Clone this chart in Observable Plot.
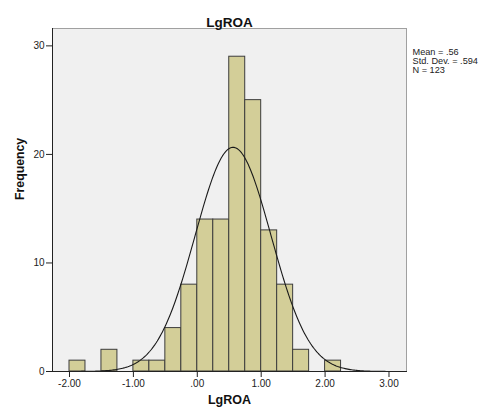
<!DOCTYPE html>
<html><head><meta charset="utf-8">
<script src="https://cdn.jsdelivr.net/npm/d3@7"></script>
<script src="https://cdn.jsdelivr.net/npm/@observablehq/plot@0.6"></script>
<style>body{margin:0;background:#fff;font-family:"Liberation Sans",Arial,sans-serif}</style>
</head><body><div id="chart"></div><script>
const binStarts = [-2.00,-1.50,-1.00,-0.75,-0.50,-0.25,0.00,0.25,0.50,0.75,1.00,1.25,1.50,2.00];
const counts = [1,2,1,1,4,8,14,14,29,25,13,8,2,1];
const binWidth = 0.25;
const xTicks = [-2,-1,0,1,2,3];
const xTickLabels = ["-2.00","-1.00",".00","1.00","2.00","3.00"];
const yTicks = [0,10,20,30];
const mean = 0.56, stdDev = 0.594, n = 123;
const statLines = ["Mean = .56","Std. Dev. = .594","N = 123"];
const title = "LgROA", xLabel = "LgROA", yLabel = "Frequency";

const xDomain = [-2.266, 3.274];
const bars = binStarts.map((s,i)=>({x1:s,x2:s+binWidth,count:counts[i]}));
// fitted normal curve defined by the chart's stated mean, sd and N
const curve = d3.range(xDomain[0], xDomain[1]+0.001, 0.02).map(x=>({
  x, y: n*binWidth/(stdDev*Math.sqrt(2*Math.PI))*Math.exp(-0.5*((x-mean)/stdDev)**2)
}));

const chart = Plot.plot({
  width:481, height:412,
  marginLeft:52, marginRight:75, marginTop:28, marginBottom:41,
  x:{domain:xDomain},
  y:{domain:[0,31.6]},
  style:{fontFamily:"'Liberation Sans', Arial, sans-serif", fontSize:"10px", background:"#fff", color:"#222"},
  marks:[
    Plot.frame({fill:"#f0f0f0", stroke:"#a0a0a0"}),
    Plot.rectY(bars,{x1:"x1",x2:"x2",y:"count",fill:"#d3ce98",stroke:"#3c3c3c",strokeWidth:1,inset:0}),
    Plot.line(curve,{x:"x",y:"y",stroke:"#1a1a1a",strokeWidth:1.1}),
    Plot.ruleY([0],{stroke:"#222"}),
    Plot.ruleX([xDomain[0]],{stroke:"#222"}),
    Plot.axisX(xTicks,{tickFormat:(d)=>xTickLabels[xTicks.indexOf(d)], tickSize:6, tickPadding:2, label:null, fontSize:10, stroke:"#222"}),
    Plot.axisY(yTicks,{tickSize:6, tickPadding:2, label:null, fontSize:10, stroke:"#222"}),
    Plot.text([title],{frameAnchor:"top", dy:-11, fontWeight:"bold", fontSize:13.5, fill:"#111"}),
    Plot.text([xLabel],{frameAnchor:"bottom", dy:32, fontWeight:"bold", fontSize:12.5, fill:"#111"}),
    Plot.text([yLabel],{frameAnchor:"left", dx:-32, rotate:-90, fontWeight:"bold", fontSize:12.3, fill:"#111"}),
    Plot.text([statLines.join("\n")],{frameAnchor:"top-right", dx:6, dy:19.5, textAnchor:"start", lineAnchor:"top", fontSize:9.2, lineHeight:1.0, fill:"#222"})
  ]
});
document.getElementById("chart").append(chart);
</script></body></html>
